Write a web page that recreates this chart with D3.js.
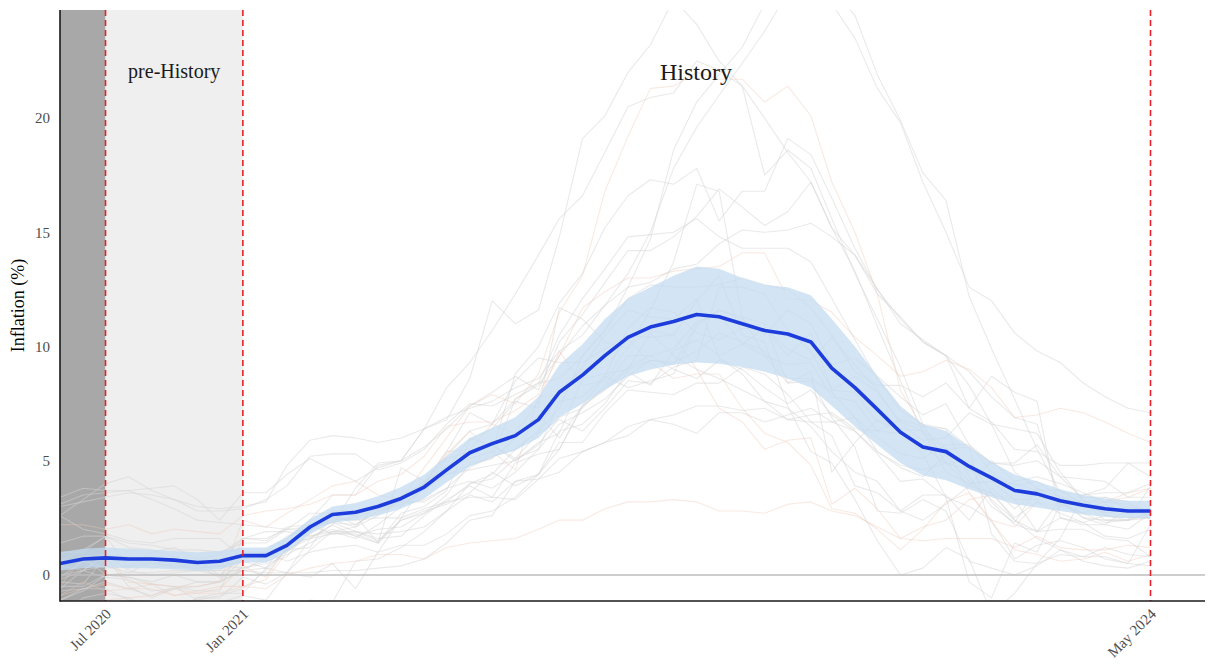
<!DOCTYPE html>
<html>
<head>
<meta charset="utf-8">
<script src="https://cdn.jsdelivr.net/npm/d3@7"></script>
<style>
  body { margin: 0; background: #ffffff; }
  svg { display: block; }
</style>
</head>
<body>
<svg id="chart" width="1208" height="665"></svg>
<script>
// Monthly observations, May 2020 – May 2024
const startMonth = new Date(2020, 4, 1);
const endMonth = new Date(2024, 4, 1);
const months = d3.timeMonth.range(startMonth, d3.timeMonth.offset(endMonth, 1));

// Cross-country central estimate (%) and its band
const meanInflation = [
  0.5, 0.7, 0.75, 0.7, 0.7, 0.65, 0.55, 0.6,
  0.85, 0.85, 1.3, 2.1, 2.65, 2.75, 3.0, 3.35, 3.85, 4.6, 5.35, 5.75,
  6.1, 6.8, 8.0, 8.75, 9.6, 10.4, 10.85, 11.1, 11.4, 11.3, 11.0, 10.7,
  10.55, 10.2, 9.05, 8.2, 7.25, 6.25, 5.6, 5.4, 4.75, 4.25, 3.7, 3.55,
  3.25, 3.05, 2.9, 2.8, 2.8
];
const bandLow = [
  0.2, 0.3, 0.35, 0.3, 0.3, 0.25, 0.2, 0.25,
  0.55, 0.55, 1.0, 1.8, 2.3, 2.4, 2.6, 2.9, 3.35, 4.05, 4.75, 5.15,
  5.45, 6.0, 6.9, 7.5, 8.1, 8.7, 9.0, 9.2, 9.3, 9.25, 9.1, 8.9,
  8.6, 8.2, 7.4, 6.5, 5.7, 4.9, 4.35, 4.15, 3.75, 3.4, 3.1, 2.95,
  2.8, 2.65, 2.55, 2.5, 2.5
];
const bandHigh = [
  1.0, 1.15, 1.2, 1.15, 1.1, 1.05, 1.0, 1.05,
  1.2, 1.2, 1.65, 2.45, 3.0, 3.15, 3.45, 3.85, 4.4, 5.2, 6.0, 6.45,
  6.9, 7.8, 9.2, 10.1, 11.2, 12.1, 12.6, 13.1, 13.5, 13.4, 13.0, 12.7,
  12.6, 12.25, 11.2, 10.0, 8.7, 7.4, 6.6, 6.3, 5.6, 4.95, 4.4, 4.1,
  3.75, 3.5, 3.35, 3.25, 3.25
];

// Individual country paths (%), same months
const countryLines = [
  [0.5,0.8,0.0,-0.1,-0.4,-0.5,-0.7,-0.7, 1.6,1.6,2.0,2.1,2.4,2.1,3.1,3.4,4.1,4.6,6.0,5.7, 5.1,5.5,7.6,7.8,8.7,8.2,8.5,8.8,10.9,11.6,11.3,9.6, 9.2,9.3,7.8,7.6,6.3,6.8,6.5,6.4,4.3,3.0,2.3,3.8, 3.1,2.7,2.3,2.4,2.8],
  [0.4,0.2,0.9,0.2,0.0,0.1,0.2,0.0, 0.8,0.8,1.4,1.6,1.8,1.9,1.5,2.4,2.7,3.2,3.4,3.4, 3.3,4.2,5.1,5.4,5.8,6.5,6.8,6.6,6.2,7.1,7.1,6.7, 7.0,7.3,6.7,6.9,6.0,5.3,5.1,5.7,5.7,4.5,3.9,4.1, 3.4,3.2,2.4,2.4,2.7],
  [-0.3,-0.4,0.8,-0.5,-1.0,-0.6,-0.3,-0.3, 0.7,1.0,0.6,1.0,1.2,1.3,1.0,2.5,2.9,3.2,4.0,4.2, 5.1,6.2,6.8,6.3,7.3,8.5,8.4,9.1,9.4,12.6,12.6,12.3, 10.7,9.8,8.1,8.7,8.0,6.7,6.3,5.5,5.6,1.8,0.6,0.5, 0.9,0.8,1.2,0.9,0.8],
  [-0.9,-0.3,-0.7,-0.6,-0.6,-0.9,-0.8,-0.6, 0.4,-0.1,1.2,2.0,2.4,2.5,2.9,3.3,4.0,5.4,5.5,6.6, 6.2,7.6,9.8,8.3,8.5,10.0,10.7,10.5,9.0,7.3,6.7,5.5, 5.9,6.0,3.1,3.8,2.9,1.6,2.1,2.4,3.3,3.5,3.3,3.3, 3.5,2.9,3.2,3.4,3.8],
  [1.4,1.7,1.7,0.3,1.0,1.2,0.7,0.9, 1.6,1.9,1.9,1.7,2.0,1.7,1.4,2.7,3.0,3.7,5.9,6.4, 7.6,7.3,11.7,11.2,10.2,9.9,11.6,13.7,17.1,16.8,11.3,11.0, 8.4,8.9,4.5,5.8,6.8,6.4,5.3,3.4,-0.3,-1.0,1.4,1.0, 3.1,2.7,3.1,2.7,2.7],
  [0.0,0.2,0.9,0.7,0.5,0.4,0.3,0.4, 0.6,0.3,1.6,2.2,2.3,2.6,1.4,4.7,4.1,5.4,7.1,6.6, 8.5,9.5,9.3,9.3,9.9,10.5,10.4,10.5,12.0,13.1,10.5,10.2, 7.4,5.4,4.9,3.3,1.5,0.0,0.3,1.2,0.7,-1.7,-0.8,0.5, 1.6,3.5,3.8,4.9,4.9],
  [0.6,1.1,1.7,1.4,1.3,1.1,1.1,1.0, 1.4,1.4,2.0,1.9,2.8,2.8,2.9,3.2,3.2,3.8,4.1,3.8, 4.5,5.5,6.6,7.1,7.7,8.7,9.4,9.2,11.0,11.6,11.2,10.5, 11.6,11.0,9.2,9.5,8.7,7.8,7.0,7.5,5.7,4.9,4.9,5.7, 4.3,4.2,4.1,3.4,3.4],
  [-1.8,-1.0,-0.8,-1.0,-1.6,-1.2,-1.1,-0.9, -0.6,0.2,1.1,1.6,2.2,3.8,4.9,5.0,6.4,6.8,8.6,12.0, 11.0,11.6,14.8,19.1,20.1,22.0,23.2,25.2,24.1,22.5,21.4,17.5, 18.6,17.8,15.6,13.2,11.2,9.1,6.6,4.9,3.9,5.0,4.1,4.3, 4.0,3.6,3.2,3.1,2.8],
  [1.0,1.0,1.7,1.2,1.1,0.8,0.4,-0.1, 0.2,0.8,1.6,2.4,3.5,3.5,4.8,5.0,6.4,8.2,9.3,10.7, 12.3,14.0,15.6,16.6,18.5,20.5,20.9,21.1,22.5,22.1,21.4,20.0, 18.5,17.2,15.2,13.3,10.9,8.5,6.2,5.2,4.1,3.3,2.4,1.6, 1.1,0.6,0.4,0.3,0.6],
  [-0.9,-0.6,-0.4,-0.6,-0.4,-0.9,-0.7,-0.5, -0.5,-0.2,1.0,1.8,2.6,2.7,2.7,3.3,4.7,6.0,7.4,7.9, 7.5,8.8,11.5,13.1,16.8,19.2,21.3,21.4,22.0,21.7,21.7,20.7, 21.4,20.1,17.2,15.0,12.3,8.1,6.4,5.6,3.6,2.3,1.1,0.9, 0.6,0.7,1.0,0.6,0.9],
  [2.6,3.3,4.0,4.3,3.7,3.3,2.8,2.8, 2.9,3.3,3.9,5.2,5.3,5.3,4.6,4.9,5.5,6.6,7.5,7.4, 7.9,8.4,8.6,9.6,10.7,12.6,14.7,18.6,20.7,21.9,23.1,25.0, 26.2,25.8,25.6,24.5,21.9,19.9,17.6,16.4,12.2,9.9,7.7,5.5, 3.6,3.5,3.6,3.6,4.0],
  [3.1,3.5,3.6,3.7,3.3,2.9,2.4,2.3, 2.2,2.1,2.0,2.7,2.7,2.6,3.1,3.2,4.0,4.8,5.1,5.4, 8.8,10.0,11.9,13.2,15.2,16.6,17.3,17.1,17.8,15.5,16.8,16.8, 19.1,18.4,16.5,14.3,12.5,11.2,10.2,9.6,7.3,8.7,8.0,7.6, 2.5,2.2,2.2,2.9,2.7],
  [3.4,3.8,3.7,3.7,3.8,3.9,3.3,2.4, 3.6,3.6,4.4,5.1,4.6,4.1,4.7,5.0,5.6,6.4,7.4,8.0, 8.7,8.1,10.2,11.4,12.8,14.2,14.2,14.8,15.7,16.9,16.1,15.3, 15.9,17.2,15.2,14.0,12.5,11.0,10.3,9.6,8.3,6.6,6.4,6.2, 4.5,3.3,2.7,3.0,2.8],
  [2.6,2.0,1.8,1.5,1.4,1.6,1.6,1.6, 0.7,0.9,1.1,1.7,1.9,2.1,2.6,3.3,4.0,4.4,4.8,5.1, 7.7,8.3,9.6,10.9,11.8,12.6,12.8,13.4,13.6,14.5,15.1,15.0, 15.1,15.4,14.8,14.0,12.3,11.3,10.2,9.6,8.9,7.8,6.9,6.6, 3.2,2.5,2.4,2.4,2.5],
  [-1.1,-0.7,0.0,0.1,0.6,0.3,0.6,0.0, 0.3,0.5,0.8,2.0,2.5,2.4,2.5,2.5,4.0,5.2,6.3,6.6, 7.7,8.4,10.5,12.1,13.4,14.8,14.9,15.0,15.6,14.8,14.3,14.3, 14.3,13.7,12.1,10.3,8.6,7.2,6.6,6.4,5.6,4.9,4.8,5.0, 4.3,3.3,2.6,2.5,2.5],
  [2.2,2.2,2.0,2.2,1.8,2.0,1.9,1.8, 2.6,2.8,2.9,3.1,3.5,3.5,4.1,4.4,5.2,6.5,6.7,6.7, 7.2,7.9,9.6,11.7,12.4,13.0,13.0,13.3,13.4,13.5,14.1,14.1, 12.1,12.0,11.5,10.4,9.6,8.7,8.9,9.4,9.0,8.2,6.9,7.0, 7.3,7.1,6.7,6.2,5.8],
  [-0.5,-0.5,0.0,-0.1,-0.3,0.0,-0.3,-0.3, 0.2,0.0,1.2,2.1,2.3,2.2,2.8,3.1,3.3,3.8,4.7,5.2, 5.5,6.3,7.3,9.6,10.7,12.1,12.7,12.6,12.6,12.7,13.0,12.7, 12.5,11.7,10.5,8.9,8.3,8.3,7.8,8.4,7.3,6.7,5.5,5.4, 4.8,4.8,4.9,4.9,4.3],
  [-1.1,-0.6,-0.3,-0.6,-0.9,-0.5,-1.1,-1.2, -0.9,-1.1,0.1,1.6,2.2,1.7,2.0,2.1,2.7,3.5,4.9,5.1, 6.0,7.0,6.0,7.4,8.7,10.8,11.7,11.5,10.6,10.3,10.8,10.8, 9.9,9.4,10.4,9.2,8.1,6.6,5.9,6.0,7.1,6.6,4.5,3.8, 3.4,3.4,3.4,2.9,2.9],
  [-1.9,-1.9,-2.1,-2.3,-2.3,-2.0,-2.1,-2.4, -2.4,-1.9,-2.0,-1.1,-1.2,0.6,0.7,1.2,1.9,2.8,4.0,4.4, 5.5,6.3,8.0,9.1,10.5,11.6,11.3,11.2,12.1,9.5,8.8,7.6, 7.3,6.5,5.4,4.5,4.1,2.8,3.5,3.5,2.4,3.8,2.9,3.7, 3.2,3.1,3.4,3.2,2.4],
  [-0.6,0.2,-0.1,-0.2,-0.7,-0.6,-0.5,-0.3, 0.2,0.3,0.1,-0.1,0.5,-0.6,1.0,1.3,1.3,1.8,2.6,2.8, 3.4,4.4,5.5,7.4,8.1,9.0,9.4,9.3,9.8,10.6,10.2,9.8, 8.6,8.6,8.0,6.9,5.4,4.7,4.3,5.3,4.8,3.2,2.2,1.9, 2.5,2.3,2.6,2.4,3.9],
  [-0.7,-0.6,-0.6,-1.1,-1.2,-1.5,-1.0,-1.0, -0.1,-0.4,0.1,1.1,1.9,1.6,2.2,3.0,3.8,5.1,5.4,5.7, 5.0,5.7,6.9,7.3,8.3,9.6,9.6,9.0,8.6,9.4,9.0,8.2, 7.5,8.1,7.0,6.3,5.4,4.8,4.6,4.9,5.0,3.6,2.5,3.2, 2.7,2.3,1.7,1.6,2.0],
  [-0.5,0.8,0.9,-0.3,-0.4,-0.5,-0.5,-0.3, 2.4,2.1,2.7,3.3,3.9,4.1,3.5,3.3,4.0,5.3,6.3,5.4, 4.6,7.8,7.9,9.0,9.1,10.3,9.3,8.6,8.8,8.8,7.3,6.2, 5.8,4.8,2.9,2.7,2.0,1.1,2.0,3.2,3.6,2.4,2.1,3.2, 3.0,3.2,3.2,3.6,3.8],
  [-1.4,-2.0,-1.8,-2.9,-2.7,-1.8,-1.0,-0.8, -0.8,0.3,1.1,1.2,2.7,2.2,2.8,3.1,3.7,4.4,4.6,4.8, 5.0,5.8,6.2,8.6,8.8,9.0,10.6,9.6,9.0,8.6,8.1,7.6, 6.8,6.7,6.1,3.9,3.6,2.8,2.4,3.1,3.9,3.6,2.4,1.9, 2.0,2.0,1.6,1.5,0.8],
  [0.6,0.6,0.9,0.8,0.7,0.6,0.2,0.2, 0.2,0.1,0.1,0.1,0.2,0.2,0.3,0.4,0.7,1.4,2.4,2.6, 4.1,4.2,4.5,5.4,5.8,6.1,6.8,7.0,7.4,7.4,7.2,7.3, 6.8,7.0,7.1,6.4,6.3,6.2,5.6,4.9,4.6,4.2,4.0,3.7, 3.7,3.1,2.7,2.9,2.6],
  [-0.2,0.2,0.4,0.1,0.1,0.2,0.2,0.2, 1.0,1.0,1.7,2.1,2.3,1.9,1.8,1.9,2.1,2.8,3.5,3.2, 4.1,4.4,5.8,5.8,7.1,8.1,8.0,7.9,8.4,8.4,9.1,8.8, 7.9,6.7,6.7,6.3,5.3,4.1,4.2,3.4,3.0,2.4,0.7,1.3, 1.5,1.2,0.7,0.5,0.4],
  [-0.1,0.6,0.3,0.4,0.5,0.4,0.3,0.4, 0.3,0.6,0.9,1.4,1.9,1.9,1.6,1.7,2.6,3.3,3.9,3.4, 4.9,5.3,5.5,7.4,8.2,9.1,9.6,9.9,11.1,11.4,10.1,9.6, 8.4,8.5,6.9,5.6,2.8,2.7,3.3,2.8,0.6,0.3,0.0,0.4, 1.1,0.8,0.8,0.5,2.2],
  [0.6,0.7,0.8,0.8,0.3,0.5,0.4,0.6, 1.6,1.5,2.1,2.2,1.8,1.8,1.4,2.4,2.8,3.1,3.6,4.5, 3.9,4.4,6.3,6.6,7.5,8.9,8.3,9.8,10.3,9.6,10.1,10.8, 9.6,10.6,8.1,8.0,6.7,6.4,6.3,4.5,4.0,4.1,3.3,1.9, 3.3,2.5,2.2,2.0,2.7],
  [-1.3,-1.3,-1.1,-1.0,-0.9,-0.6,-0.8,-0.8, -0.5,-0.6,0.0,0.3,0.5,0.6,0.9,0.9,0.7,1.2,1.4,1.5, 1.6,2.0,2.4,2.4,2.9,3.2,3.2,3.3,3.2,2.8,2.8,2.7, 3.1,3.2,2.8,2.6,2.1,1.6,1.5,1.6,1.6,1.6,1.2,1.7, 1.2,1.1,1.1,1.3,1.2],
  [3.0,3.2,3.4,3.6,3.5,3.3,3.0,2.9, 3.0,3.2,4.8,5.9,6.1,6.0,5.8,6.0,6.4,6.9,7.3,7.6, 8.2,8.6,9.8,10.5,11.8,13.2,15.0,17.8,19.6,21.0,22.4,23.8, 25.5,25.9,25.0,23.5,21.3,19.8,17.2,15.0,12.6,12.0,10.6,9.8, 9.3,8.4,7.8,7.3,7.1]
];

// Axis ticks and annotations
const yTicks = [0, 5, 10, 15, 20];
const xTickDates = [new Date(2020, 6, 1), new Date(2021, 0, 1), new Date(2024, 4, 1)];
const xTickLabels = ["Jul 2020", "Jan 2021", "May 2024"];
const periodLabels = ["pre-History", "History"];

const plot = { left: 60, right: 1205, top: 10, bottom: 601 };
const serif = "'Liberation Serif', 'Times New Roman', serif";

const x = d3.scaleTime()
  .domain([new Date(2020, 4, 1), new Date(2024, 6, 13)])
  .range([plot.left, plot.right]);
const y = d3.scaleLinear()
  .domain([-1.138, 24.73])
  .range([plot.bottom, plot.top]);

const svg = d3.select("#chart");
svg.append("defs").append("clipPath").attr("id", "panel")
  .append("rect")
  .attr("x", plot.left).attr("y", plot.top)
  .attr("width", plot.right - plot.left).attr("height", plot.bottom - plot.top);

const panel = svg.append("g").attr("clip-path", "url(#panel)");

// Shaded periods before the history window
panel.append("rect")
  .attr("x", x(startMonth)).attr("y", plot.top)
  .attr("width", x(xTickDates[0]) - x(startMonth)).attr("height", plot.bottom - plot.top)
  .attr("fill", "#a8a8a8");
panel.append("rect")
  .attr("x", x(xTickDates[0])).attr("y", plot.top)
  .attr("width", x(xTickDates[1]) - x(xTickDates[0])).attr("height", plot.bottom - plot.top)
  .attr("fill", "#efefef");

// Country paths
const line = d3.line().x((d, i) => x(months[i])).y(d => y(d));
panel.append("g").selectAll("path")
  .data(countryLines)
  .join("path")
  .attr("d", line)
  .attr("fill", "none")
  .attr("stroke", (d, i) => i % 6 === 3 ? "#eec9b8" : "#d6d6d6")
  .attr("stroke-opacity", (d, i) => i % 6 === 3 ? 0.4 : 0.5)
  .attr("stroke-width", 1.1)
  .attr("stroke-linejoin", "round");

// Uncertainty band
const area = d3.area()
  .x((d, i) => x(months[i]))
  .y0((d, i) => y(bandLow[i]))
  .y1((d, i) => y(bandHigh[i]));
panel.append("path")
  .datum(meanInflation)
  .attr("d", area)
  .attr("fill", "#c4dcf2")
  .attr("fill-opacity", 0.75);

// Zero reference
panel.append("line")
  .attr("x1", plot.left).attr("x2", plot.right)
  .attr("y1", y(0)).attr("y2", y(0))
  .attr("stroke", "#bdbdbd").attr("stroke-width", 1.5);

// Central line
panel.append("path")
  .datum(meanInflation)
  .attr("d", line)
  .attr("fill", "none")
  .attr("stroke", "#1c3cdc")
  .attr("stroke-width", 3.6)
  .attr("stroke-linejoin", "round");

// Period boundaries
panel.append("g").selectAll("line")
  .data(xTickDates)
  .join("line")
  .attr("x1", d => x(d)).attr("x2", d => x(d))
  .attr("y1", plot.top).attr("y2", plot.bottom)
  .attr("stroke", "#e8202a").attr("stroke-width", 1.6)
  .attr("stroke-dasharray", "6,4");

// Period labels
svg.append("text")
  .attr("x", (x(xTickDates[0]) + x(xTickDates[1])) / 2).attr("y", 78)
  .attr("text-anchor", "middle")
  .attr("font-family", serif).attr("font-size", 20).attr("fill", "#1a1a1a")
  .text(periodLabels[0]);
svg.append("text")
  .attr("x", 696).attr("y", 80)
  .attr("text-anchor", "middle")
  .attr("font-family", serif).attr("font-size", 24).attr("fill", "#1a1a1a")
  .text(periodLabels[1]);

// Axes
const yAxis = svg.append("g")
  .attr("transform", `translate(${plot.left},0)`)
  .call(d3.axisLeft(y).tickValues(yTicks).tickSize(0).tickPadding(10));
yAxis.select(".domain").remove();
yAxis.selectAll("text")
  .attr("font-family", serif).attr("font-size", 15).attr("fill", "#4d4d4d");

const xAxis = svg.append("g")
  .attr("transform", `translate(0,${plot.bottom})`)
  .call(d3.axisBottom(x).tickValues(xTickDates).tickSize(0)
    .tickFormat((d, i) => xTickLabels[i]));
xAxis.select(".domain").remove();
xAxis.selectAll("text")
  .attr("font-family", serif).attr("font-size", 15).attr("fill", "#4d4d4d")
  .attr("text-anchor", "end")
  .attr("dy", null).attr("y", 0)
  .attr("transform", "translate(6,14) rotate(-45)");

svg.append("line")
  .attr("x1", plot.left).attr("x2", plot.left)
  .attr("y1", plot.top).attr("y2", plot.bottom + 0.75)
  .attr("stroke", "#1a1a1a").attr("stroke-width", 1.6);
svg.append("line")
  .attr("x1", plot.left).attr("x2", plot.right)
  .attr("y1", plot.bottom).attr("y2", plot.bottom)
  .attr("stroke", "#1a1a1a").attr("stroke-width", 1.6);

svg.append("text")
  .attr("transform", `translate(24,${(plot.top + plot.bottom) / 2}) rotate(-90)`)
  .attr("text-anchor", "middle")
  .attr("font-family", serif).attr("font-size", 18).attr("fill", "#000")
  .text("Inflation (%)");
</script>
</body>
</html>
